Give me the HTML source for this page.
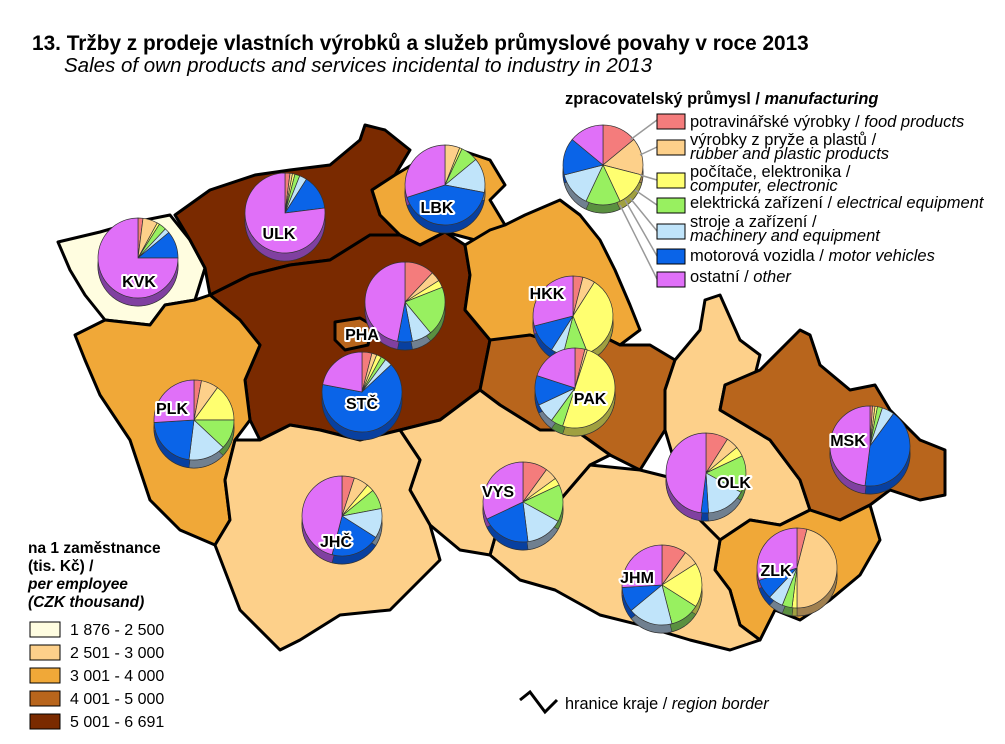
<!DOCTYPE html>
<html><head><meta charset="utf-8"><style>
body{margin:0;background:#fff;}
svg{display:block;font-family:"Liberation Sans",sans-serif;}
.lab{font-weight:bold;font-size:16px;fill:#000;stroke:#fff;stroke-width:4px;paint-order:stroke;stroke-linejoin:round}
</style></head><body>
<svg id="s" width="1005" height="744" viewBox="0 0 1005 744" xmlns="http://www.w3.org/2000/svg">
<text x="32" y="50" font-size="20.8" font-weight="bold">13. Tržby z prodeje vlastních výrobků a služeb průmyslové povahy v roce 2013</text>
<text x="64" y="72" font-size="20.5" font-style="italic">Sales of own products and services incidental to industry in 2013</text>
<g stroke="#000" stroke-width="3" stroke-linejoin="round">
<polygon fill="#fffde0" points="58,242 100,232 135,222 170,215 190,240 205,268 195,300 165,305 150,325 105,320 85,295 70,270"/>
<polygon fill="#7a2a00" points="175,215 210,190 255,175 290,170 330,165 360,140 365,125 385,130 410,150 395,175 372,190 380,215 400,235 370,235 330,260 290,265 250,275 210,295 205,268 190,240"/>
<polygon fill="#f0a838" points="395,175 420,160 460,150 490,160 505,185 490,200 505,225 475,240 445,232 420,245 400,235 380,215 372,190"/>
<polygon fill="#7a2a00" points="210,295 250,275 290,265 330,260 370,235 400,235 420,245 445,232 465,245 470,275 465,310 490,340 480,390 440,420 400,430 360,440 320,430 290,425 260,440 250,420 245,380 260,345 240,320"/>
<polygon fill="#b8651c" points="335,322 360,318 372,325 368,345 345,350 335,340"/>
<polygon fill="#f0a838" points="75,335 105,320 150,325 165,305 195,300 210,295 240,320 260,345 245,380 250,420 235,440 225,480 230,520 215,545 180,530 150,500 130,440 100,395 85,360"/>
<polygon fill="#f0a838" points="470,275 465,245 490,230 505,225 525,215 560,200 580,215 600,240 615,270 630,305 640,330 620,345 590,330 560,345 530,335 495,345 490,340 465,310"/>
<polygon fill="#b8651c" points="490,340 530,335 560,345 590,330 620,345 650,345 675,360 665,390 665,430 640,470 610,455 575,430 540,430 500,405 480,390"/>
<polygon fill="#fdd08a" points="675,360 700,330 705,300 720,295 740,340 760,355 755,375 725,385 720,410 770,440 800,480 810,510 780,525 750,520 720,540 700,520 680,480 665,430 665,390"/>
<polygon fill="#b8651c" points="725,385 760,370 790,340 800,330 810,335 820,365 850,390 875,385 890,410 920,440 945,450 945,495 920,500 890,490 870,505 840,520 810,510 800,480 770,440 720,410"/>
<polygon fill="#f0a838" points="720,540 750,520 780,525 810,510 840,520 870,505 880,540 860,575 830,600 800,620 775,610 760,640 740,625 730,590 715,570"/>
<polygon fill="#fdd08a" points="590,465 640,470 680,480 700,520 720,540 715,570 730,590 740,625 760,640 730,650 690,640 640,625 600,615 555,590 520,580 490,555 500,520 560,500"/>
<polygon fill="#fdd08a" points="480,390 500,405 540,430 575,430 610,455 590,465 560,500 500,520 490,555 460,550 430,525 410,490 420,460 400,430 440,420"/>
<polygon fill="#fdd08a" points="235,440 260,440 290,425 320,430 360,440 400,430 420,460 410,490 430,525 440,560 420,580 390,610 340,615 300,640 280,650 240,610 215,545 230,520 225,480"/>
</g>
<g id="pies"></g>
<g id="labs"></g>
<g stroke="#999" stroke-width="1.5" fill="none">
<line x1="630" y1="140" x2="657" y2="120"/><line x1="640" y1="155" x2="657" y2="147"/><line x1="640" y1="175" x2="657" y2="180"/><line x1="635" y1="190" x2="657" y2="205"/><line x1="630" y1="198" x2="657" y2="231"/><line x1="625" y1="200" x2="657" y2="256"/><line x1="620" y1="205" x2="657" y2="279"/>
</g>
<text x="565" y="104" font-size="16.4" font-weight="bold">zpracovatelský průmysl / <tspan font-style="italic">manufacturing</tspan></text>
<g font-size="16.5" id="leg"></g>
<text x="28" y="553" font-size="15.5" font-weight="bold">na 1 zaměstnance</text>
<text x="28" y="571" font-size="15.5" font-weight="bold">(tis. Kč) /</text>
<text x="28" y="589" font-size="15.5" font-weight="bold" font-style="italic">per employee</text>
<text x="28" y="607" font-size="15.5" font-weight="bold" font-style="italic">(CZK thousand)</text>
<g stroke="#000" stroke-width="1">
<rect x="30" y="622" width="30" height="15" fill="#fffde0"/>
<rect x="30" y="645" width="30" height="15" fill="#fdd08a"/>
<rect x="30" y="668" width="30" height="15" fill="#f0a838"/>
<rect x="30" y="691" width="30" height="15" fill="#b8651c"/>
<rect x="30" y="714" width="30" height="15" fill="#7a2a00"/>
</g>
<g font-size="16"><text x="70" y="635">1 876 - 2 500</text><text x="70" y="658">2 501 - 3 000</text><text x="70" y="681">3 001 - 4 000</text><text x="70" y="704">4 001 - 5 000</text><text x="70" y="727">5 001 - 6 691</text></g>
<polyline points="520,700 530,692 545,712 557,700" fill="none" stroke="#000" stroke-width="3"/>
<text x="565" y="709" font-size="16.3">hranice kraje / <tspan font-style="italic">region border</tspan></text>
</svg>
<script>
var C=["#f47c7c","#fdd08a","#ffff70","#98f060","#c0e4fa","#0a64e8","#e070f8"];
var D=["#a05050","#a08050","#a0a040","#5a9040","#708090","#0840a0","#8040a0"];
var P=[[138,258,[2,6,1,3,2,11,75],"KVK",139,287],[285,213,[2,1,1,2,3,14,77],"ULK",279,239],[445,185,[0,6,1,7,14,42,30],"LBK",437,213],
[405,302,[12,4,3,20,8,6,47],"PHA",362,340],[362,392,[4,2,2,2,3,65,22],"STČ",362,409],[194,420,[3,7,15,12,15,22,26],"PLK",172,414],
[573,316,[4,5,35,10,5,12,29],"HKK",547,299],[575,388,[4,1,50,5,8,12,20],"PAK",590,404],[706,473,[9,5,4,15,16,3,48],"OLK",734,488],
[870,446,[1,1,1,2,5,42,48],"MSK",848,446],[523,502,[10,5,3,15,15,20,32],"VYS",498,497],[342,516,[5,6,3,8,12,20,46],"JHČ",336,547],
[662,585,[10,6,18,12,18,10,26],"JHM",637,583],[797,568,[4,46,2,4,6,8,30],"ZLK",776,576],[603,165,[14,15,14,14,14,15,14],"",0,0]];
var g=document.getElementById("pies"),h="",L="";
function pt(cx,cy,r,a){return [cx+r*Math.sin(a),cy-r*Math.cos(a)];}
P.forEach(function(p){var cx=p[0],cy=p[1],r=40,d=8,v=p[2];
 h+='<ellipse cx="'+cx+'" cy="'+(cy+d)+'" rx="'+r+'" ry="'+r+'" fill="#555" stroke="#333"/>';
 var a0=0;v.forEach(function(x,i){if(!x)return;var a1=a0+x/100*2*Math.PI;
  var s=pt(cx,cy+d,r,a0),e=pt(cx,cy+d,r,a1);
  h+='<path d="M'+cx+','+(cy+d)+'L'+s+'A'+r+','+r+' 0 '+(a1-a0>Math.PI?1:0)+',1 '+e+'Z" fill="'+D[i]+'" stroke="#333" stroke-width="0.5"/>';a0=a1;});
 a0=0;v.forEach(function(x,i){if(!x)return;var a1=a0+x/100*2*Math.PI;
  var s=pt(cx,cy,r,a0),e=pt(cx,cy,r,a1);
  h+='<path d="M'+cx+','+cy+'L'+s+'A'+r+','+r+' 0 '+(a1-a0>Math.PI?1:0)+',1 '+e+'Z" fill="'+C[i]+'" stroke="#333" stroke-width="0.7"/>';a0=a1;});
 if(p[3])L+='<text class="lab" x="'+p[4]+'" y="'+p[5]+'" text-anchor="middle">'+p[3]+'</text>';});
g.innerHTML=h;document.getElementById("labs").innerHTML=L;
var R=[[114,127,["potravinářské výrobky / ","food products"]],[140,145,["výrobky z pryže a plastů /"],["rubber and plastic products"]],[173,177,["počítače, elektronika /"],["computer, electronic"]],[198,208,["elektrická zařízení / ","electrical equipment"]],[224,227,["stroje a zařízení /"],["machinery and equipment"]],[249,261,["motorová vozidla / ","motor vehicles"]],[272,282,["ostatní / ","other"]]];
var s="";R.forEach(function(q,i){var y=q[0],b=q[1];s+='<rect x="657" y="'+y+'" width="28" height="15" fill="'+C[i]+'" stroke="#000"/>';
 var a=q[2];s+='<text x="690" y="'+b+'">'+a[0]+(a[1]?'<tspan font-style="italic">'+a[1]+'</tspan>':'')+'</text>';
 if(q[3])s+='<text x="690" y="'+(b+14)+'" font-style="italic">'+q[3][0]+'</text>';});
document.getElementById("leg").innerHTML=s;
</script>
</body></html>
